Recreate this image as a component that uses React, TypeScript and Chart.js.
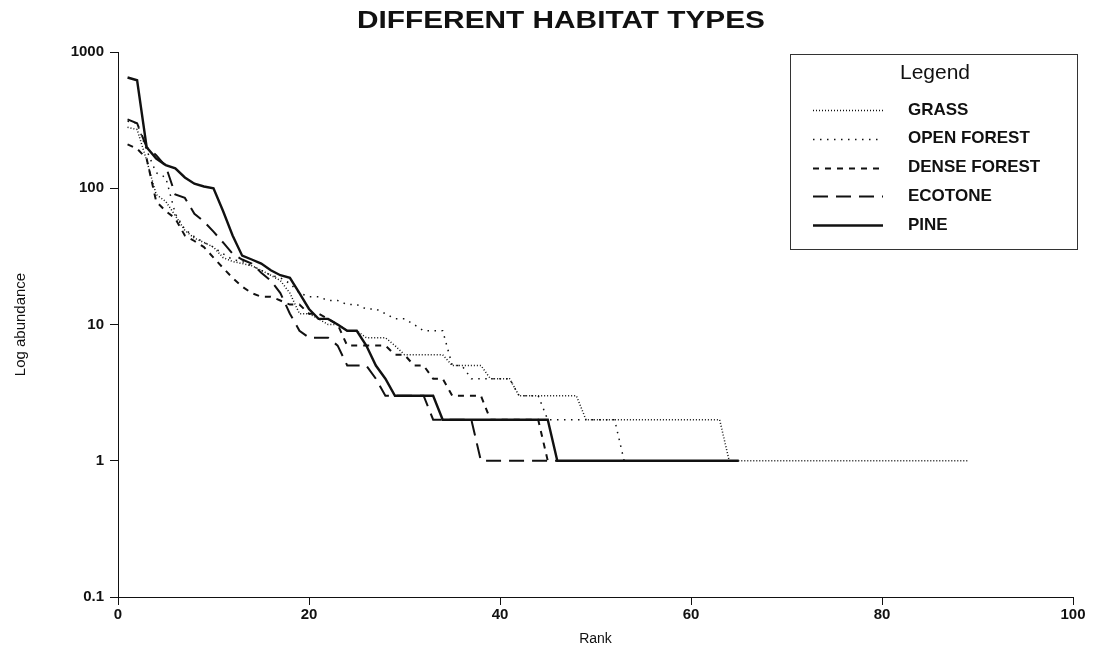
import React, { useEffect, useRef } from "react";
import { Chart, registerables } from "chart.js";

Chart.register(...registerables);

// Rank-abundance values (abundance at rank 1, 2, 3, ...)
const grass = [
  280, 270, 160, 90, 80, 63, 49, 43, 40, 37, 31, 29, 28, 27, 25, 23, 21, 17, 12, 12,
  11, 10, 10, 9, 9, 8, 8, 8, 7, 6, 6, 6, 6, 6, 5, 5, 5, 5, 4, 4,
  4, 3, 3, 3, 3, 3, 3, 3, 2, 2, 2, 2, 2, 2, 2, 2, 2, 2, 2, 2,
  2, 2, 2, 1, 1, 1, 1, 1, 1, 1, 1, 1, 1, 1, 1, 1, 1, 1, 1, 1,
  1, 1, 1, 1, 1, 1, 1, 1, 1,
];
const openForest = [
  310, 300, 190, 130, 120, 65, 50, 44, 40, 37, 33, 30, 29, 27, 25, 23, 22, 20, 17, 16,
  16, 15, 15, 14, 14, 13, 13, 12, 11, 11, 10, 9, 9, 9, 5, 5, 4, 4, 4, 4,
  4, 3, 3, 3, 2, 2, 2, 2, 2, 2, 2, 2, 1,
];
const denseForest = [
  210, 195, 165, 80, 68, 60, 45, 41, 37, 31, 26, 22, 19, 17, 16, 16, 15, 14, 14, 12,
  12, 11, 10, 7, 7, 7, 7, 7, 6, 6, 5, 5, 4, 4, 3, 3, 3, 3, 2, 2,
  2, 2, 2, 2, 1,
];
const ecotone = [
  320, 300, 200, 175, 145, 90, 85, 65, 57, 48, 40, 33, 30, 28, 24, 21, 17, 12, 9, 8,
  8, 8, 7, 5, 5, 5, 4, 3, 3, 3, 3, 3, 2, 2, 2, 2, 2, 1, 1, 1,
  1, 1, 1, 1, 1, 1,
];
const pine = [
  650, 620, 200, 165, 148, 140, 120, 108, 103, 100, 68, 45, 32, 30, 28, 25, 23, 22, 17, 13,
  11, 11, 10, 9, 9, 7, 5, 4, 3, 3, 3, 3, 3, 2, 2, 2, 2, 2, 2, 2,
  2, 2, 2, 2, 2, 1, 1, 1, 1, 1, 1, 1, 1, 1, 1, 1, 1, 1, 1, 1,
  1, 1, 1, 1, 1,
];

const seriesNames = ["GRASS", "OPEN FOREST", "DENSE FOREST", "ECOTONE", "PINE"];
const seriesValues = [grass, openForest, denseForest, ecotone, pine];

const xTickValues = [0, 20, 40, 60, 80, 100];
const yTickValues = [0.1, 1, 10, 100, 1000];

const chartTitle = "DIFFERENT HABITAT TYPES";
const xAxisTitle = "Rank";
const yAxisTitle = "Log abundance";
const legendTitle = "Legend";

const FONT = "'Liberation Sans', Arial, Helvetica, sans-serif";
const INK = "#111111";

// Line style per habitat: fine dots, sparse dots, short dashes, long dashes, solid
const lineStyles = [
  { dash: [1, 2], width: 1.5 },
  { dash: [1.5, 5.5], width: 1.5 },
  { dash: [6, 6], width: 2 },
  { dash: [15, 8], width: 2 },
  { dash: [] as number[], width: 2.4 },
];

const toPoints = (values: number[]) => values.map((v, i) => ({ x: i + 1, y: v }));

// Wide, horizontally stretched heading above the plot
const titlePlugin = {
  id: "habitatTitle",
  afterDraw(chart: any) {
    const { ctx } = chart;
    const targetWidth = 408;
    ctx.save();
    ctx.font = `bold 23px ${FONT}`;
    const w = ctx.measureText(chartTitle).width;
    const sx = targetWidth / w;
    ctx.translate(561, 22);
    ctx.scale(sx, 1);
    ctx.fillStyle = INK;
    ctx.textAlign = "center";
    ctx.textBaseline = "middle";
    ctx.fillText(chartTitle, 0, 0);
    ctx.restore();
  },
};

const boxLegendPlugin = {
  id: "boxLegend",
  afterDraw(chart: any) {
    const { ctx } = chart;
    const left = 790;
    const top = 54;
    const right = 1077;
    const bottom = 249;
    ctx.save();
    ctx.fillStyle = "#ffffff";
    ctx.fillRect(left, top, right - left, bottom - top);
    ctx.strokeStyle = "#333333";
    ctx.lineWidth = 1;
    ctx.strokeRect(left + 0.5, top + 0.5, right - left, bottom - top);

    ctx.fillStyle = INK;
    ctx.textBaseline = "middle";
    ctx.textAlign = "center";
    ctx.font = `21px ${FONT}`;
    ctx.fillText(legendTitle, 935, 73);

    ctx.textAlign = "left";
    ctx.font = `bold 17px ${FONT}`;
    chart.data.datasets.forEach((ds: any, i: number) => {
      const y = 110 + i * 28.8;
      ctx.save();
      ctx.strokeStyle = INK;
      ctx.lineWidth = ds.borderWidth;
      ctx.setLineDash(ds.borderDash || []);
      ctx.beginPath();
      ctx.moveTo(813, Math.round(y) + 0.5);
      ctx.lineTo(883, Math.round(y) + 0.5);
      ctx.stroke();
      ctx.restore();
      ctx.fillText(ds.label, 908, y);
    });
    ctx.restore();
  },
};

export default function App() {
  const canvasRef = useRef<HTMLCanvasElement | null>(null);

  useEffect(() => {
    if (!canvasRef.current) return;
    const chart = new Chart(canvasRef.current, {
      type: "line",
      data: {
        datasets: seriesValues.map((values, i) => ({
          label: seriesNames[i],
          data: toPoints(values),
          borderColor: INK,
          borderWidth: lineStyles[i].width,
          borderDash: lineStyles[i].dash,
          pointRadius: 0,
          tension: 0,
          fill: false,
        })),
      },
      options: {
        responsive: false,
        animation: false,
        events: [],
        layout: { padding: { top: 52, right: 23, bottom: 0, left: 0 } },
        plugins: {
          legend: { display: false },
          title: { display: false },
          tooltip: { enabled: false },
        },
        scales: {
          x: {
            type: "linear",
            min: 0,
            max: 100,
            afterBuildTicks: (scale: any) => {
              scale.ticks = xTickValues.map((v) => ({ value: v }));
            },
            afterFit: (scale: any) => {
              scale.height = 64;
            },
            ticks: {
              color: INK,
              font: { family: FONT, size: 15, weight: "bold" },
              padding: 1,
              maxRotation: 0,
            },
            grid: { drawOnChartArea: false, drawTicks: true, tickLength: 8, color: INK, lineWidth: 1 },
            border: { display: true, color: INK, width: 1 },
            title: {
              display: true,
              text: xAxisTitle,
              color: INK,
              font: { family: FONT, size: 14 },
              padding: { top: 0, bottom: 13 },
            },
          },
          y: {
            type: "logarithmic",
            min: 0.1,
            max: 1000,
            afterBuildTicks: (scale: any) => {
              scale.ticks = yTickValues.map((v) => ({ value: v }));
            },
            afterFit: (scale: any) => {
              scale.width = 118;
            },
            ticks: {
              color: INK,
              font: { family: FONT, size: 15, weight: "bold" },
              padding: 6,
              callback: (v: any) => String(v),
            },
            grid: { drawOnChartArea: false, drawTicks: true, tickLength: 8, color: INK, lineWidth: 1 },
            border: { display: true, color: INK, width: 1 },
            title: {
              display: true,
              text: yAxisTitle,
              color: INK,
              font: { family: FONT, size: 15 },
              padding: { top: 12, bottom: 0 },
            },
          },
        },
      },
      plugins: [titlePlugin, boxLegendPlugin],
    });
    return () => chart.destroy();
  }, []);

  return (
    <div style={{ position: "fixed", left: 0, top: 0, width: 1096, height: 661, background: "#fff" }}>
      <canvas ref={canvasRef} width={1096} height={661} />
    </div>
  );
}
